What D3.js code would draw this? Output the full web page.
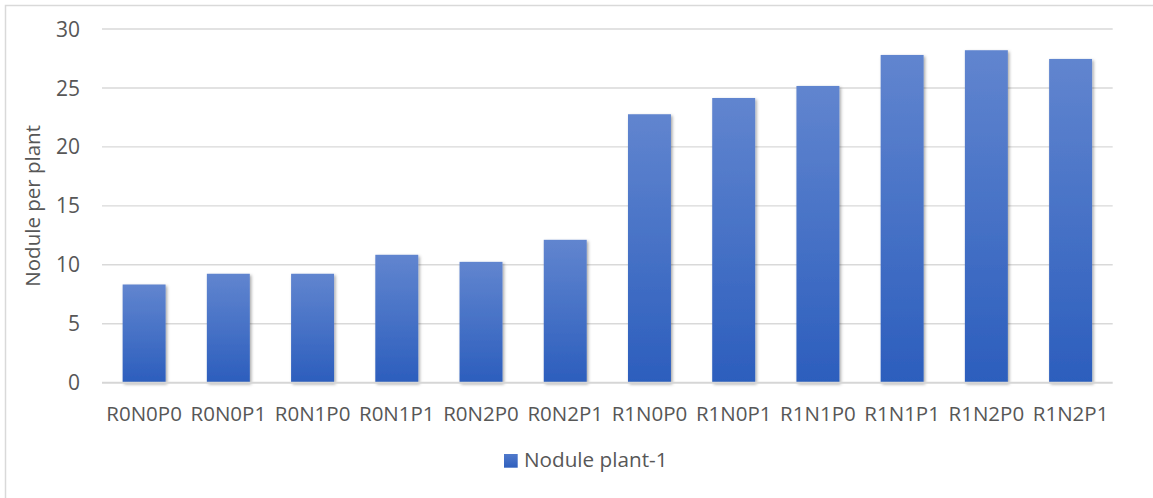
<!DOCTYPE html>
<html>
<head>
<meta charset="utf-8">
<script src="https://cdn.jsdelivr.net/npm/d3@7"></script>
<style>
  html, body { margin: 0; padding: 0; background: #fff; }
  svg { display: block; }
  text { font-family: "Open Sans", "Noto Sans", sans-serif; fill: #575757; }
</style>
</head>
<body>
<svg id="chart" width="1153" height="498"></svg>
<script>
const categories = ["R0N0P0","R0N0P1","R0N1P0","R0N1P1","R0N2P0","R0N2P1","R1N0P0","R1N0P1","R1N1P0","R1N1P1","R1N2P0","R1N2P1"];
const noduleValues = [8.33, 9.24, 9.24, 10.85, 10.25, 12.12, 22.77, 24.15, 25.17, 27.8, 28.2, 27.46];
const yTicks = [0, 5, 10, 15, 20, 25, 30];
const seriesName = "Nodule plant-1";
const yTitle = "Nodule per plant";

const svg = d3.select("#chart");
const plot = { left: 102, right: 1112.7, top: 29, bottom: 382.7 };

const defs = svg.append("defs");
const grad = defs.append("linearGradient").attr("id", "barGrad")
  .attr("x1", 0).attr("y1", 0).attr("x2", 0).attr("y2", 1);
grad.append("stop").attr("offset", "0%").attr("stop-color", "#6185cf");
grad.append("stop").attr("offset", "100%").attr("stop-color", "#2c5ebd");
const legGrad = defs.append("linearGradient").attr("id", "legGrad")
  .attr("x1", 0).attr("y1", 0).attr("x2", 0).attr("y2", 1);
legGrad.append("stop").attr("offset", "0%").attr("stop-color", "#5079cb");
legGrad.append("stop").attr("offset", "100%").attr("stop-color", "#2f5fbd");
const shadow = defs.append("filter").attr("id", "shadow")
  .attr("x", "-20%").attr("y", "-5%").attr("width", "140%").attr("height", "115%");
shadow.append("feDropShadow").attr("dx", 1.5).attr("dy", 1.5).attr("stdDeviation", 1.6)
  .attr("flood-color", "#000").attr("flood-opacity", 0.35);

// chart border (only top and left visible)
svg.append("rect").attr("x", 5.5).attr("y", 5.5).attr("width", 1400).attr("height", 800)
  .attr("fill", "none").attr("stroke", "#d9d9d9").attr("stroke-width", 1.5);

const x = d3.scaleBand().domain(categories).range([plot.left, plot.right]).paddingInner(0.49).paddingOuter(0.245);
const y = d3.scaleLinear().domain([0, 30]).range([plot.bottom, plot.top]);

// gridlines
svg.append("g").selectAll("line").data(yTicks.filter(d => d > 0)).join("line")
  .attr("x1", plot.left).attr("x2", plot.right)
  .attr("y1", d => y(d)).attr("y2", d => y(d))
  .attr("stroke", "#d9d9d9").attr("stroke-width", 1.4);

// y tick labels
svg.append("g").selectAll("text").data(yTicks).join("text")
  .attr("x", 80).attr("y", d => y(d)).attr("dy", "0.36em")
  .attr("text-anchor", "end").attr("font-size", 21)
  .text(d => d);

// bars
svg.append("g").selectAll("rect").data(categories).join("rect")
  .attr("x", d => x(d)).attr("width", x.bandwidth())
  .attr("y", (d, i) => y(noduleValues[i]))
  .attr("height", (d, i) => y(0) - y(noduleValues[i]))
  .attr("fill", "url(#barGrad)")
  .attr("filter", "url(#shadow)");

// baseline
svg.append("line").attr("x1", plot.left).attr("x2", plot.right)
  .attr("y1", y(0)).attr("y2", y(0))
  .attr("stroke", "#d6d6d6").attr("stroke-width", 2);

// x labels
svg.append("g").selectAll("text").data(categories).join("text")
  .attr("x", d => x(d) + x.bandwidth() / 2).attr("y", 420.5)
  .attr("text-anchor", "middle").attr("font-size", 20.5)
  .text(d => d);

// y title
svg.append("text")
  .attr("transform", `translate(40,${(plot.top + plot.bottom) / 2}) rotate(-90)`)
  .attr("text-anchor", "middle").attr("font-size", 20.5)
  .text(yTitle);

// legend
const leg = svg.append("g");
leg.append("rect").attr("x", 504).attr("y", 454).attr("width", 13.7).attr("height", 13.7)
  .attr("fill", "url(#legGrad)");
leg.append("text").attr("x", 524).attr("y", 467).attr("font-size", 20.7).text(seriesName);
</script>
</body>
</html>
